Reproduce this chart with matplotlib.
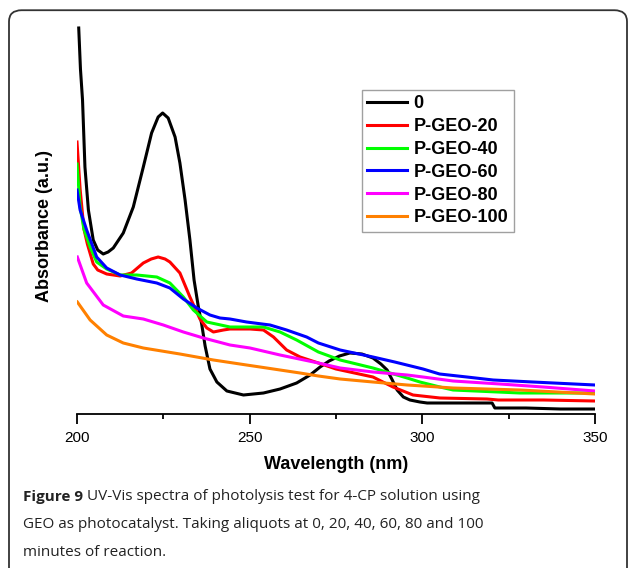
import matplotlib.pyplot as plt
from matplotlib.patches import FancyBboxPatch

# DATA (wavelength in nm, absorbance in arbitrary units)
wl_0 = [200.5, 201.0, 201.6, 202.3, 203.3, 204.7, 206.0, 207.6, 209.0, 210.5, 213.4, 216.3,
        219.2, 221.6, 223.5, 224.8, 226.4, 228.4, 229.8, 231.3, 232.7, 233.9, 235.1,
        236.1, 237.1, 238.5, 240.5, 243.4, 248.2, 254.0, 258.8, 263.6, 267.5, 270.4,
        273.0, 276.0, 279.0, 282.5, 285.7, 288.0, 289.8, 291.3, 292.7, 294.5, 296.4,
        299.3, 301.4, 310.0, 320.2, 321.0, 330.0, 340.0, 350.0]
abs_0 = [3.86, 3.45, 3.14, 2.47, 2.04, 1.74, 1.64, 1.60, 1.62, 1.66, 1.81, 2.07,
         2.47, 2.81, 2.97, 3.01, 2.96, 2.77, 2.51, 2.14, 1.74, 1.34, 1.08,
         0.90, 0.68, 0.45, 0.32, 0.23, 0.19, 0.21, 0.25, 0.31, 0.39, 0.47,
         0.53, 0.58, 0.61, 0.60, 0.56, 0.50, 0.44, 0.34, 0.24, 0.17, 0.14,
         0.12, 0.11, 0.11, 0.11, 0.06, 0.06, 0.05, 0.05]

wl_20 = [200.0, 200.9, 202.0, 203.0, 204.7, 206.0, 208.6, 212.5, 215.8, 219.2, 221.5,
         223.5, 225.5, 226.9, 229.8, 232.7, 235.6, 237.6, 239.5, 242.4, 244.3, 250.1,
         254.0, 256.9, 260.7, 264.6, 269.9, 275.0, 279.0, 285.7, 291.5, 297.3, 305.1,
         318.7, 322.0, 335.0, 350.0]
abs_20 = [2.72, 2.25, 1.85, 1.70, 1.50, 1.44, 1.40, 1.38, 1.41, 1.51, 1.55,
          1.57, 1.55, 1.52, 1.41, 1.17, 0.95, 0.86, 0.82, 0.84, 0.85, 0.85,
          0.84, 0.77, 0.64, 0.57, 0.51, 0.45, 0.42, 0.37, 0.27, 0.19, 0.16,
          0.15, 0.14, 0.14, 0.13]

wl_40 = [200.0, 200.9, 202.0, 203.8, 205.7, 208.6, 212.5, 217.3, 223.1, 226.9, 230.8,
         233.7, 237.6, 244.3, 250.1, 254.0, 258.8, 263.6, 269.9, 276.2, 285.7, 295.6,
         299.3, 305.1, 308.9, 328.3, 350.0]
abs_40 = [2.50, 2.07, 1.85, 1.67, 1.52, 1.45, 1.39, 1.39, 1.37, 1.31, 1.17,
          1.04, 0.92, 0.87, 0.87, 0.87, 0.82, 0.74, 0.62, 0.54, 0.46, 0.36,
          0.32, 0.27, 0.24, 0.21, 0.21]

wl_60 = [200.0, 200.9, 202.8, 205.7, 208.6, 212.5, 217.3, 223.1, 226.9, 230.8, 234.7,
         238.5, 241.4, 244.3, 249.1, 255.9, 260.7, 266.5, 269.9, 276.2, 285.7, 292.0,
         300.2, 305.0, 312.9, 320.5, 332.0, 350.0]
abs_60 = [2.24, 2.04, 1.84, 1.57, 1.46, 1.39, 1.35, 1.31, 1.26, 1.15, 1.06,
          0.99, 0.96, 0.95, 0.92, 0.89, 0.84, 0.77, 0.71, 0.64, 0.57, 0.52,
          0.45, 0.40, 0.37, 0.34, 0.32, 0.29]

wl_80 = [200.1, 202.8, 207.6, 213.4, 219.2, 225.0, 230.8, 236.6, 244.3, 250.1, 258.8,
         269.9, 276.2, 285.7, 295.6, 300.2, 308.9, 322.5, 335.0, 350.0]
abs_80 = [1.57, 1.31, 1.09, 0.98, 0.95, 0.89, 0.82, 0.76, 0.69, 0.66, 0.59,
          0.51, 0.46, 0.42, 0.39, 0.37, 0.33, 0.30, 0.27, 0.23]

wl_100 = [200.1, 203.8, 208.6, 213.4, 219.2, 229.8, 239.5, 249.1, 253.0, 258.8, 264.6,
          269.9, 276.2, 285.7, 295.6, 300.2, 308.9, 328.3, 350.0]
abs_100 = [1.12, 0.94, 0.79, 0.71, 0.66, 0.60, 0.54, 0.49, 0.47, 0.44, 0.41,
           0.38, 0.35, 0.32, 0.29, 0.28, 0.26, 0.24, 0.20]

labels = ["0", "P-GEO-20", "P-GEO-40", "P-GEO-60", "P-GEO-80", "P-GEO-100"]
colors = ["black", "#ff0000", "#00ff00", "#0000ff", "#ff00ff", "#ff8000"]
series = [(wl_0, abs_0), (wl_20, abs_20), (wl_40, abs_40),
          (wl_60, abs_60), (wl_80, abs_80), (wl_100, abs_100)]

caption_bold = "Figure 9"
caption_lines = [" UV-Vis spectra of photolysis test for 4-CP solution using",
                 "GEO as photocatalyst. Taking aliquots at 0, 20, 40, 60, 80 and 100",
                 "minutes of reaction."]

plt.rcParams['font.family'] = ['Liberation Sans', 'DejaVu Sans']

fig = plt.figure(figsize=(6.29, 5.68), dpi=100)

# rounded frame around figure + caption (open at the bottom)
frame = FancyBboxPatch((9 / 629, -0.1), 618 / 629, 1.082, transform=fig.transFigure,
                       boxstyle="round,pad=0,rounding_size=0.02", fill=False,
                       edgecolor="#333333", linewidth=1.3)
fig.patches.append(frame)

ax = fig.add_axes([77 / 629, 1 - 414 / 568, 518 / 629, 390 / 568])
for (x, y), lab, c in zip(series, labels, colors):
    ax.plot(x, y, color=c, lw=2.2, label=lab)

ax.set_xlim(200, 350)
ax.set_ylim(0, 3.9)
for s in ["top", "right", "left"]:
    ax.spines[s].set_visible(False)
ax.spines["bottom"].set_linewidth(1.3)
ax.set_yticks([])
ax.set_xticks([200, 250, 300, 350])
ax.set_xticks([225, 275, 325], minor=True)
ax.tick_params(axis="x", which="major", direction="out", length=7, width=1.3,
               labelsize=11, pad=5)
ax.tick_params(axis="x", which="minor", direction="out", length=3.5, width=1.3)
ax.set_xlabel("Wavelength (nm)", fontsize=13, fontweight="bold", labelpad=8)
ax.set_ylabel("Absorbance (a.u.)", fontsize=13, fontweight="bold")
ax.yaxis.set_label_coords(-0.047, 0.482)

leg = ax.legend(loc="upper left", bbox_to_anchor=(285 / 518, 1 - 66 / 390),
                prop={"weight": "bold", "size": 13}, frameon=True, fancybox=False,
                handlelength=2.2, handletextpad=0.35, labelspacing=0.32,
                borderpad=0.3, borderaxespad=0)
leg.get_frame().set_edgecolor("#888888")
leg.get_frame().set_linewidth(1.0)

# caption
cap_font = ['Open Sans', 'DejaVu Sans']
t = fig.text(23 / 629, 1 - 497 / 568, caption_bold, fontsize=11, fontweight="bold",
             family=cap_font, va="center", ha="left", color="#222222")
fig.canvas.draw()
bb = t.get_window_extent()
fig.text(bb.x1 / 629, 1 - 497 / 568, caption_lines[0], fontsize=11, family=cap_font,
         va="center", ha="left", color="#222222")
fig.text(23 / 629, 1 - 525 / 568, caption_lines[1], fontsize=11, family=cap_font,
         va="center", ha="left", color="#222222")
fig.text(23 / 629, 1 - 552 / 568, caption_lines[2], fontsize=11, family=cap_font,
         va="center", ha="left", color="#222222")

fig.savefig("out.png", dpi=100)
